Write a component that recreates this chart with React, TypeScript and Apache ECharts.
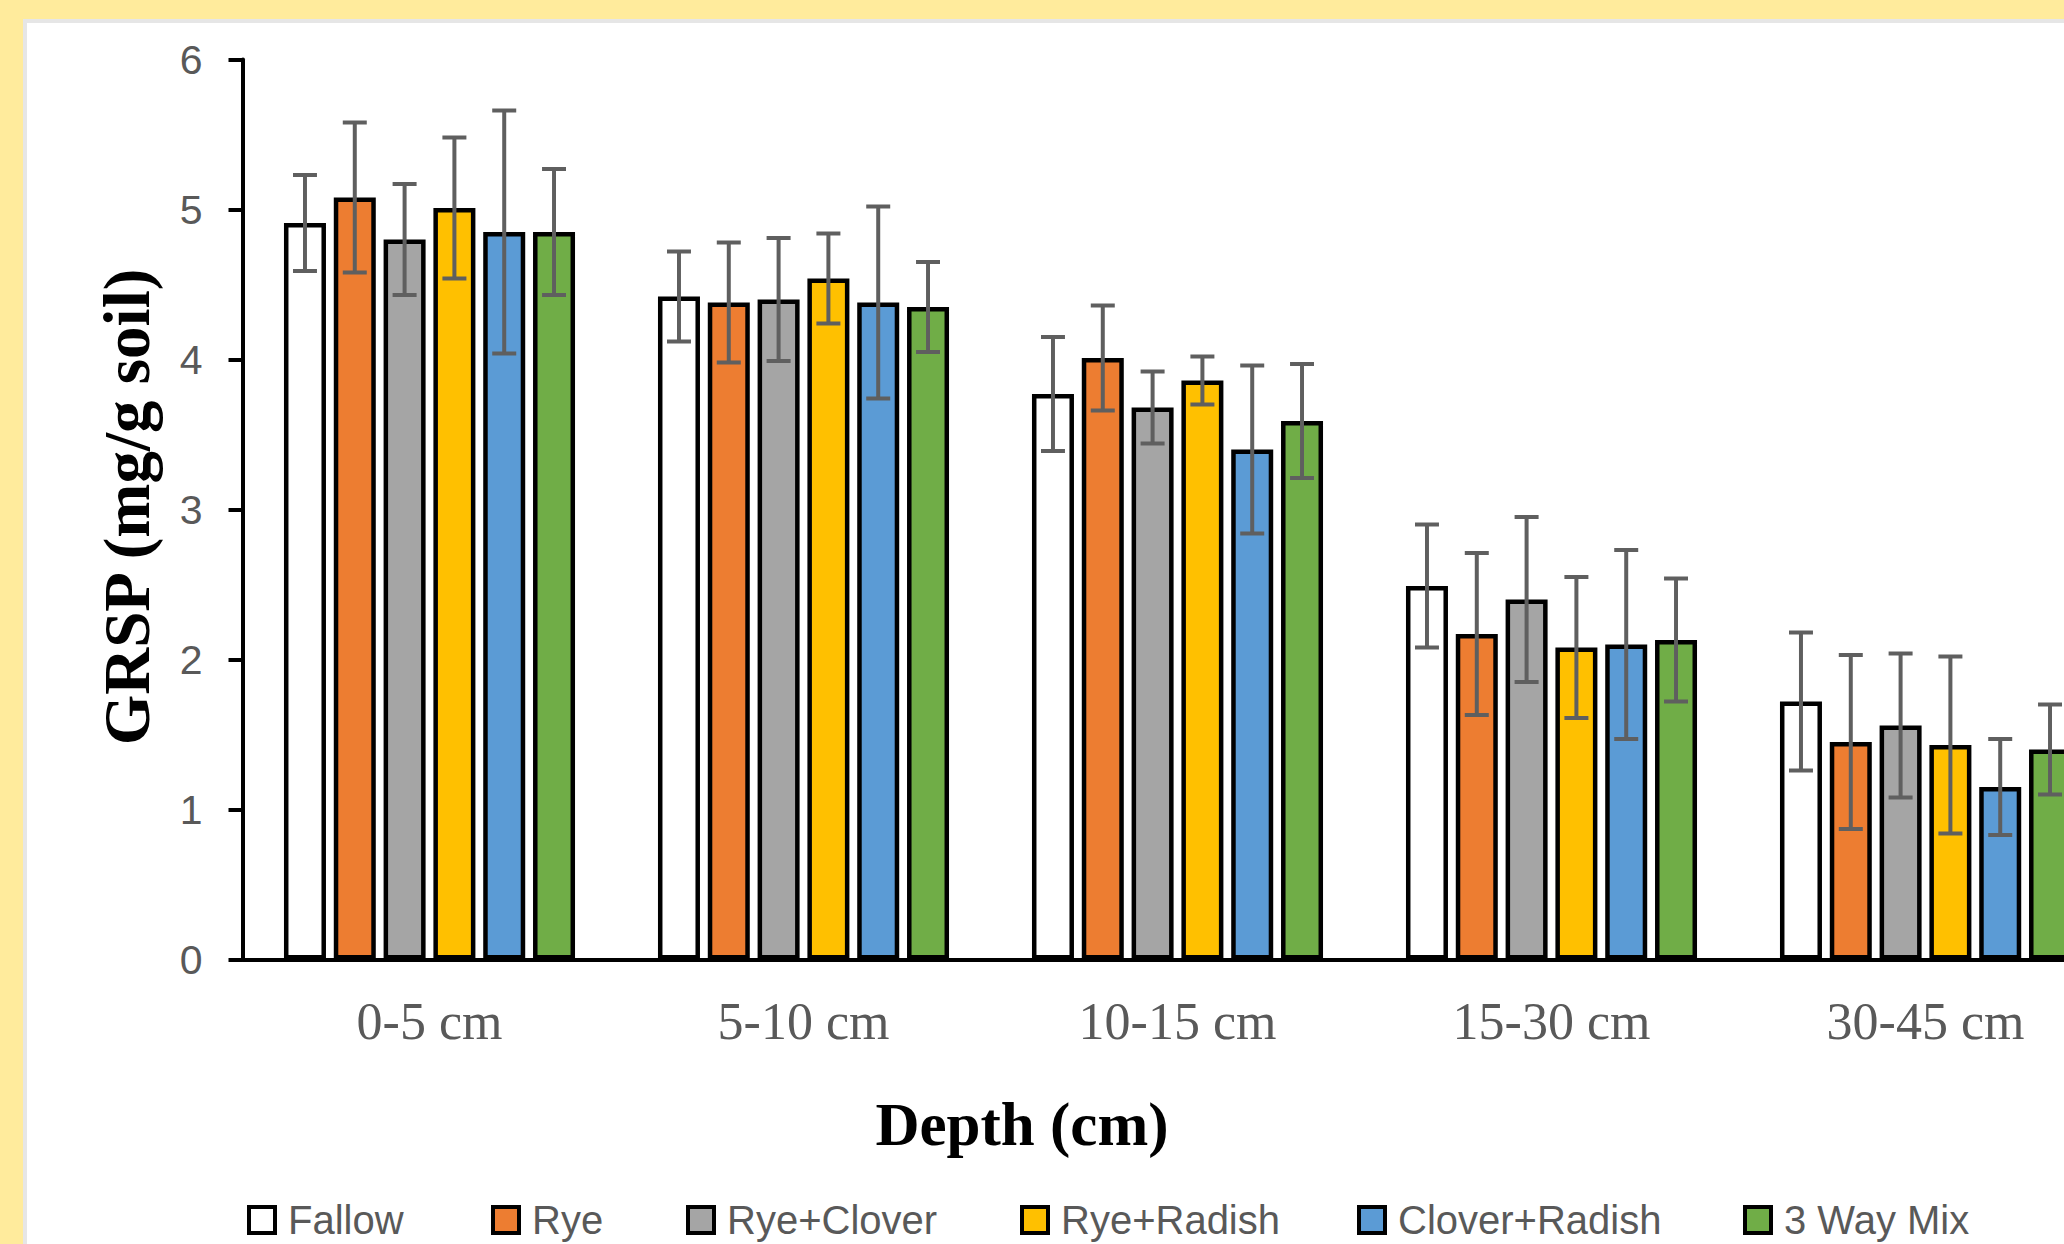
import React, { useEffect, useRef } from 'react';
import * as echarts from 'echarts';

// ---- data ----
const categories = ['0-5 cm', '5-10 cm', '10-15 cm', '15-30 cm', '30-45 cm'];
const seriesNames = ['Fallow', 'Rye', 'Rye+Clover', 'Rye+Radish', 'Clover+Radish', '3 Way Mix'];
const seriesColors = ['#FFFFFF', '#ED7D31', '#A5A5A5', '#FFC000', '#5B9BD5', '#70AD47'];

const fallow = [4.91, 4.42, 3.77, 2.49, 1.72];
const fallowErr = [0.32, 0.30, 0.38, 0.41, 0.46];
const rye = [5.08, 4.38, 4.01, 2.17, 1.45];
const ryeErr = [0.50, 0.40, 0.35, 0.54, 0.58];
const ryeClover = [4.80, 4.40, 3.68, 2.40, 1.56];
const ryeCloverErr = [0.37, 0.41, 0.24, 0.55, 0.48];
const ryeRadish = [5.01, 4.54, 3.86, 2.08, 1.43];
const ryeRadishErr = [0.47, 0.30, 0.16, 0.47, 0.59];
const cloverRadish = [4.85, 4.38, 3.40, 2.10, 1.15];
const cloverRadishErr = [0.81, 0.64, 0.56, 0.63, 0.32];
const wayMix3 = [4.85, 4.35, 3.59, 2.13, 1.40];
const wayMix3Err = [0.42, 0.30, 0.38, 0.41, 0.30];

const yMin = 0;
const yMax = 6;
const yInterval = 1;

const xTitle = 'Depth (cm)';
const yTitle = 'GRSP (mg/g soil)';

// ---- layout ----
const W = 2064;
const H = 1244;
const CHART_W = 2130; // plot area continues past the right edge, as in the reference
const BAR_W = 42;
const BAR_GAP = 0.186;
const legendLefts = [247, 491, 686, 1020, 1357, 1743];

export default function App() {
  const ref = useRef<HTMLDivElement>(null);

  useEffect(() => {
    if (!ref.current) return;
    const chart = echarts.init(ref.current, null, { renderer: 'svg' });
    const means = [fallow, rye, ryeClover, ryeRadish, cloverRadish, wayMix3];
    const errs = [fallowErr, ryeErr, ryeCloverErr, ryeRadishErr, cloverRadishErr, wayMix3Err];
    const step = BAR_W * (1 + BAR_GAP);

    const barSeries = seriesNames.map((name, k) => ({
      type: 'bar',
      name,
      data: means[k],
      barWidth: BAR_W,
      barGap: `${BAR_GAP * 100}%`,
      itemStyle: { color: seriesColors[k], borderColor: '#000', borderWidth: 4.5 },
      z: 2,
    }));

    const errSeries = seriesNames.map((name, k) => ({
      type: 'custom',
      name: name + ' error',
      data: means[k].map((v, i) => [i, v, errs[k][i]]),
      encode: { x: 0, y: 1 },
      z: 5,
      silent: true,
      renderItem: (params: any, api: any) => {
        const i = api.value(0);
        const v = api.value(1);
        const e = api.value(2);
        const top = api.coord([i, v + e]);
        const bot = api.coord([i, v - e]);
        const x = top[0] + (k - 2.5) * step;
        const cw = 12;
        const style = { stroke: '#5F5F5F', lineWidth: 4 };
        return {
          type: 'group',
          children: [
            { type: 'line', shape: { x1: x, y1: top[1], x2: x, y2: bot[1] }, style },
            { type: 'line', shape: { x1: x - cw, y1: top[1], x2: x + cw, y2: top[1] }, style },
            { type: 'line', shape: { x1: x - cw, y1: bot[1], x2: x + cw, y2: bot[1] }, style },
          ],
        };
      },
    }));

    const legends = seriesNames.map((name, k) => ({
      data: [name],
      left: legendLefts[k],
      top: 1200,
      padding: 0,
      itemWidth: 26,
      itemHeight: 26,
      icon: 'rect',
      itemStyle: { borderColor: '#000', borderWidth: 4 },
      textStyle: {
        color: '#595959',
        fontSize: 40,
        fontFamily: '"Liberation Sans", Arial, sans-serif',
        padding: [0, 0, 0, 8],
      },
    }));

    chart.setOption({
      animation: false,
      backgroundColor: 'transparent',
      grid: { left: 242.5, top: 59.5, width: 1870, height: 900, containLabel: false },
      legend: legends,
      xAxis: {
        type: 'category',
        data: categories,
        axisLine: { show: true, lineStyle: { color: '#000', width: 4 } },
        axisTick: { show: false },
        axisLabel: {
          margin: 36,
          color: '#595959',
          fontSize: 52,
          lineHeight: 52,
          fontFamily: '"Liberation Serif", "Times New Roman", serif',
        },
        splitLine: { show: false },
      },
      yAxis: {
        type: 'value',
        min: yMin,
        max: yMax,
        interval: yInterval,
        axisLine: { show: true, lineStyle: { color: '#000', width: 4 } },
        axisTick: { show: true, length: 14, lineStyle: { color: '#000', width: 4 } },
        axisLabel: {
          margin: 40,
          color: '#595959',
          fontSize: 41,
          fontFamily: '"Liberation Sans", Arial, sans-serif',
        },
        splitLine: { show: false },
      },
      graphic: [
        {
          type: 'text',
          x: 1022,
          y: 1124,
          style: {
            text: xTitle,
            fill: '#000',
            font: 'bold 61px "Liberation Serif", "Times New Roman", serif',
            textAlign: 'center',
            textVerticalAlign: 'middle',
          },
        },
        {
          type: 'text',
          x: 127,
          y: 507,
          rotation: Math.PI / 2,
          style: {
            text: yTitle,
            fill: '#000',
            font: 'bold 65px "Liberation Serif", "Times New Roman", serif',
            textAlign: 'center',
            textVerticalAlign: 'middle',
          },
        },
      ],
      series: [...barSeries, ...errSeries],
    });

    return () => chart.dispose();
  }, []);

  return (
    <div
      style={{
        position: 'fixed',
        left: 0,
        top: 0,
        width: W,
        height: H,
        background: '#FFEB9C',
        overflow: 'hidden',
      }}
    >
      <div
        style={{
          position: 'absolute',
          left: 23,
          top: 19,
          width: W,
          height: H,
          background: '#FFFFFF',
          borderLeft: '4px solid #E6E6E6',
          borderTop: '4px solid #E6E6E6',
        }}
      />
      <div ref={ref} style={{ position: 'absolute', left: 0, top: 0, width: CHART_W, height: H }} />
    </div>
  );
}
